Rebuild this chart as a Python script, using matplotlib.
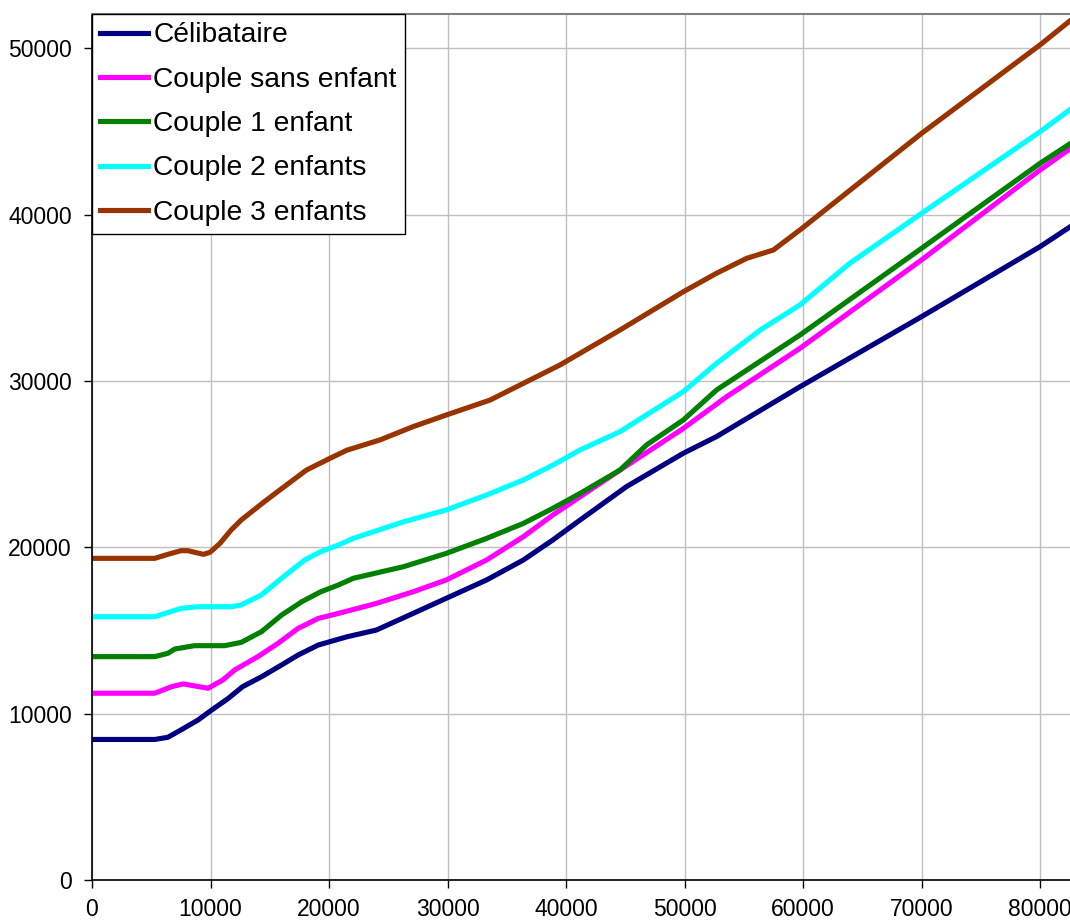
import matplotlib
matplotlib.use('Agg')
import matplotlib.pyplot as plt

plt.rcParams['font.family'] = ['Liberation Sans', 'DejaVu Sans']

# revenu (x) et niveau de vie (y)
x_celib = [0, 5300, 6400, 7500, 8950, 10100, 11500, 12700, 14300, 16000, 17400,
           19100, 21500, 24000, 27100, 29900, 33300, 36400, 38900, 41200, 45100,
           49900, 52700, 59750, 70000, 80000, 82600]
y_celib = [8450, 8450, 8580, 9020, 9620, 10220, 10920, 11620, 12220, 12930, 13530,
           14130, 14620, 15030, 16030, 16940, 18040, 19240, 20450, 21650, 23650,
           25660, 26660, 29660, 33870, 38080, 39300]

x_sans = [0, 5300, 6700, 7700, 8650, 9800, 11050, 12050, 14000, 15700, 17400,
          19100, 20800, 24000, 27100, 29900, 33300, 36400, 38900, 41200, 44560,
          49900, 53560, 59750, 70000, 80000, 82600]
y_sans = [11230, 11230, 11620, 11790, 11670, 11530, 12030, 12630, 13430, 14230, 15130,
          15730, 16030, 16630, 17330, 18040, 19240, 20640, 21950, 23050, 24650,
          27150, 29060, 31970, 37280, 42690, 44000]

x_1enf = [0, 5300, 6400, 7000, 8650, 11200, 12600, 14300, 16000, 17700, 19300,
          20800, 22050, 26300, 29900, 33300, 36400, 38900, 41200, 44560, 46800,
          49900, 52700, 59750, 70000, 80000, 82600]
y_1enf = [13430, 13430, 13630, 13890, 14090, 14090, 14290, 14930, 15930, 16730, 17330,
          17740, 18140, 18840, 19640, 20540, 21440, 22350, 23250, 24650, 26160,
          27660, 29460, 32770, 37980, 43090, 44300]

x_2enf = [0, 5300, 7500, 8950, 11750, 12600, 14300, 16000, 17950, 19300, 20800,
          22050, 26300, 29900, 33300, 36400, 38900, 41200, 44560, 49900, 52700,
          56400, 59750, 63950, 70000, 80000, 82600]
y_2enf = [15830, 15830, 16330, 16430, 16430, 16540, 17140, 18140, 19240, 19740, 20140,
          20540, 21540, 22250, 23150, 24050, 24950, 25860, 26960, 29360, 31060,
          33070, 34580, 37080, 40080, 44990, 46350]

x_3enf = [0, 5300, 6400, 7500, 8100, 9400, 9950, 10800, 11750, 12600, 14550,
          15850, 18100, 20100, 21500, 24300, 27100, 29900, 33600, 39500, 44560,
          49900, 52700, 55250, 57500, 59750, 70000, 80000, 82600]
y_3enf = [19340, 19340, 19580, 19800, 19800, 19580, 19700, 20240, 21050, 21650, 22750,
          23450, 24650, 25360, 25840, 26460, 27260, 27960, 28860, 30970, 33070,
          35370, 36480, 37380, 37880, 39090, 44890, 50210, 51700]

series = [
    ('Célibataire', x_celib, y_celib, '#000080'),
    ('Couple sans enfant', x_sans, y_sans, '#FF00FF'),
    ('Couple 1 enfant', x_1enf, y_1enf, '#008000'),
    ('Couple 2 enfants', x_2enf, y_2enf, '#00FFFF'),
    ('Couple 3 enfants', x_3enf, y_3enf, '#993300'),
]

fig = plt.figure(figsize=(10.7, 9.24), dpi=100)
ax = fig.add_axes([92 / 1070, 44 / 924, 978 / 1070, 866 / 924])

for label, xs, ys, col in series:
    ax.plot(xs, ys, color=col, linewidth=3.7, label=label, solid_joinstyle='round')

ax.set_xlim(0, 82530)
ax.set_ylim(0, 52070)
ax.set_xticks(range(0, 80001, 10000))
ax.set_yticks(range(0, 50001, 10000))
ax.grid(True, color='#c0c0c0', linewidth=1)
ax.set_axisbelow(True)
ax.tick_params(labelsize=16.5, length=6, width=1, direction='out', color='black')
ax.tick_params(axis='x', pad=7)
ax.tick_params(axis='y', pad=8.5)

ax.spines['right'].set_visible(False)
ax.spines['top'].set_color('#808080')
ax.spines['top'].set_linewidth(1.5)
ax.spines['left'].set_linewidth(1.2)
ax.spines['bottom'].set_linewidth(1.2)

leg = ax.legend(loc='upper left', fontsize=20.3, frameon=True, fancybox=False,
                borderaxespad=0, borderpad=0.3, handlelength=1.7,
                handletextpad=0.18, labelspacing=0.65)
leg.get_frame().set_edgecolor('black')
leg.get_frame().set_linewidth(1)
leg.get_frame().set_alpha(1)

plt.savefig('out.png', dpi=100)
